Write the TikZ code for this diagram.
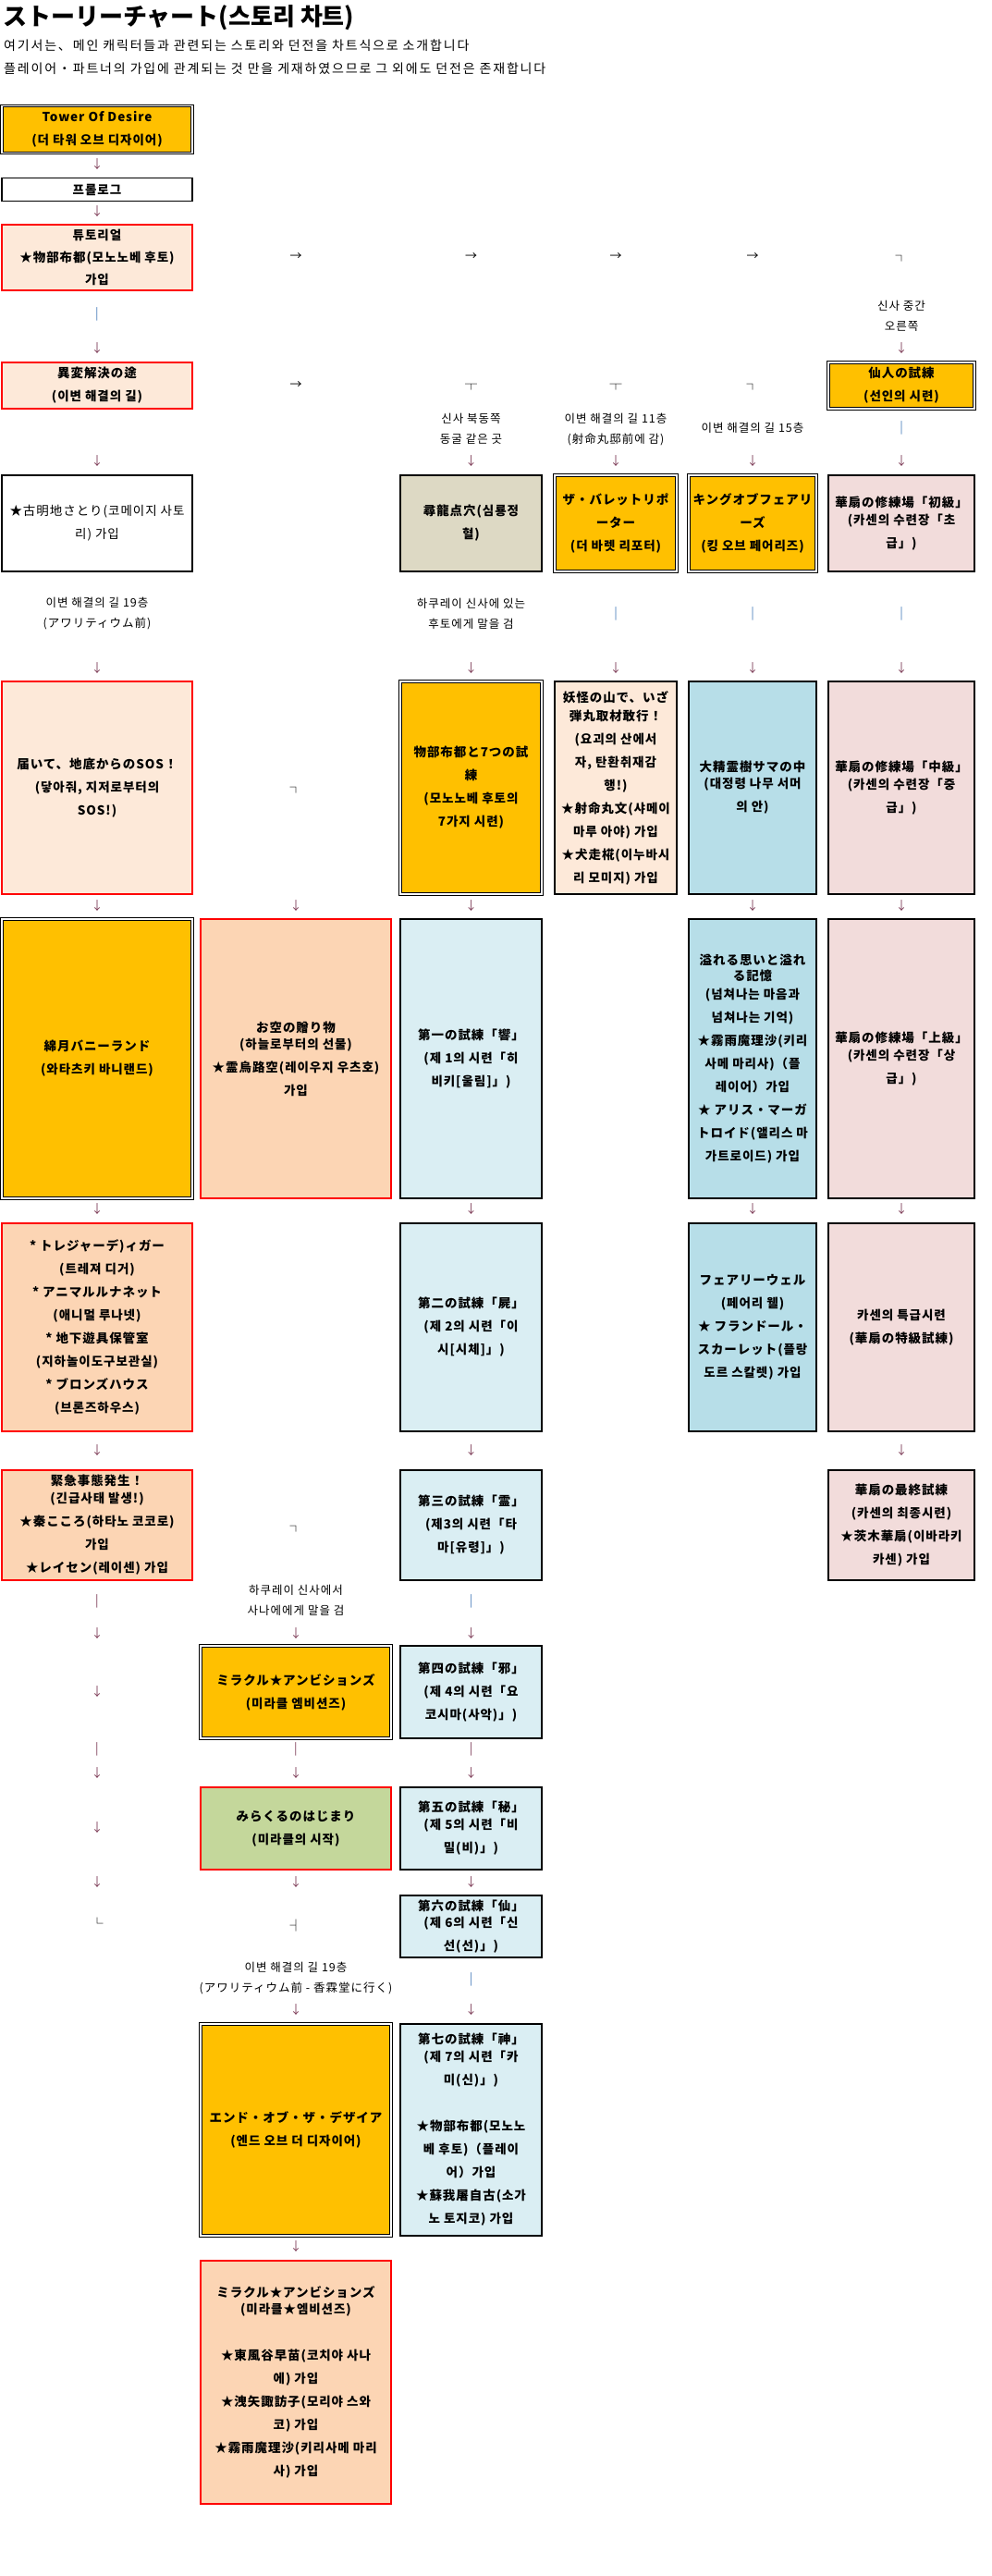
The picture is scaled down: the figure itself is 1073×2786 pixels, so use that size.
\documentclass[tikz,border=0pt]{standalone}
\usepackage{fontspec}
\setmainfont{Noto Sans CJK KR}
\usetikzlibrary{positioning}
\definecolor{goldc}{HTML}{FFC000}
\definecolor{peachL}{HTML}{FDE9D9}
\definecolor{peachD}{HTML}{FCD5B4}
\definecolor{beigec}{HTML}{DDD9C4}
\definecolor{pinkc}{HTML}{F2DCDB}
\definecolor{blueD}{HTML}{B7DEE8}
\definecolor{blueL}{HTML}{DAEEF3}
\definecolor{greenc}{HTML}{C4D79B}
\definecolor{arrc}{HTML}{80405A}
\definecolor{barc}{HTML}{4F81BD}
\tikzset{
  bx/.style={inner sep=0pt, align=center, font=\bfseries\fontsize{13.5}{25}\selectfont\addfontfeatures{LetterSpace=7}},
  goldbx/.style={bx, fill=goldc, draw=black, double=white, double distance=1.3pt, line width=1pt},
  redbx/.style={bx, draw=red, line width=2.4pt},
  blkbx/.style={bx, draw=black, line width=2.2pt},
  thinbx/.style={bx, draw=black, line width=1.1pt},
  wA/.style={minimum width=206pt}, wB/.style={minimum width=206pt},
  wC/.style={minimum width=153pt}, wD/.style={minimum width=132pt},
  wE/.style={minimum width=138pt}, wF/.style={minimum width=158pt},
  dn/.style={text=arrc, inner sep=0pt, font=\fontsize{13}{13}\selectfont},
  bar/.style={text=barc, inner sep=0pt, font=\fontsize{13}{13}\selectfont},
  rt/.style={inner sep=0pt, font=\fontsize{13}{13}\selectfont},
  note/.style={inner sep=0pt, align=center, font=\fontsize{12.5}{22}\selectfont\addfontfeatures{LetterSpace=8}},
  hd/.style={anchor=west, inner sep=0pt, font=\fontsize{14}{14}\selectfont\addfontfeatures{LetterSpace=13}},
}
\newcommand{\colA}{105}
\newcommand{\colB}{320}
\newcommand{\colC}{509.5}
\newcommand{\colD}{666}
\newcommand{\colE}{814}
\newcommand{\colF}{975}

\begin{document}
\begin{tikzpicture}[x=1pt, y=-1pt]
  \fill[white] (0,0) rectangle (1073,2786);
  \useasboundingbox (0,0) rectangle (1073,2786);
  % header
  \node[anchor=west, inner sep=0pt, font=\bfseries\fontsize{26}{26}\selectfont] (ttl) at (3,19) {ストーリーチャート(스토리 차트)};
  \node[hd] (hdA) at (4,49) {여기서는、메인 캐릭터들과 관련되는 스토리와 던전을 차트식으로 소개합니다};
  \node[hd] (hdB) at (4,74) {플레이어・파트너의 가입에 관계되는 것 만을 게재하였으므로 그 외에도 던전은 존재합니다};

  % boxes
  \node[goldbx, wA, minimum height=51pt] (tower) at (\colA,140) {Tower Of Desire\\(더 타워 오브 디자이어)};
  \node[thinbx, wA, minimum height=25pt] (prolog) at (\colA,205) {프롤로그};
  \node[redbx, fill=peachL, wA, minimum height=71pt] (tuto) at (\colA,278.5) {튜토리얼\\[-1pt]★物部布都(모노노베 후토)\\[-1pt]가입};
  \node[redbx, fill=peachL, wA, minimum height=50pt] (ihen) at (\colA,417) {異変解決の途\\(이변 해결의 길)};
  \node[goldbx, wF, minimum height=50pt] (senn) at (\colF,417) {仙人の試練\\(선인의 시련)};

  \node[thinbx, wA, minimum height=104pt, font=\mdseries\fontsize{13.5}{25}\selectfont\addfontfeatures{LetterSpace=7}] (satori) at (\colA,566) {★古明地さとり(코메이지 사토\\리) 가입};
  \node[blkbx, fill=beigec, wC, minimum height=104pt] (shinryu) at (\colC,566) {尋龍点穴(심룡정\\혈)};
  \node[goldbx, wD, minimum height=104pt] (bullet) at (\colD,566) {ザ・バレットリポ\\ーター\\(더 바렛 리포터)};
  \node[goldbx, wE, minimum height=104pt] (kingf) at (\colE,566) {キングオブフェアリ\\ーズ\\(킹 오브 페어리즈)};
  \node[blkbx, fill=pinkc, wF, minimum height=104pt] (kasenA) at (\colF,566) {華扇の修練場「初級」\\[-6pt](카센의 수련장「초\\급」)};

  \node[redbx, fill=peachL, wA, minimum height=230pt] (sos) at (\colA,852) {届いて、地底からのSOS！\\(닿아줘, 지저로부터의\\SOS!)};
  \node[goldbx, wC, minimum height=230pt] (futo7) at (\colC,852) {物部布都と7つの試\\練\\(모노노베 후토의\\7가지 시련)};
  \node[blkbx, fill=peachL, wD, minimum height=230pt] (youkai) at (\colD,852) {妖怪の山で、いざ\\[-5pt]弾丸取材敢行！\\(요괴의 산에서\\자, 탄환취재감\\행!)\\★射命丸文(샤메이\\마루 아야) 가입\\★犬走椛(이누바시\\리 모미지) 가입};
  \node[blkbx, fill=blueD, line width=1.8pt, wE, minimum height=230pt] (daisei) at (\colE,852) {大精霊樹サマの中\\[-7pt](대정령 나무 서머\\의 안)};
  \node[blkbx, fill=pinkc, wF, minimum height=230pt] (kasenB) at (\colF,852) {華扇の修練場「中級」\\[-6pt](카센의 수련장「중\\급」)};

  \node[goldbx, wA, minimum height=302pt] (watat) at (\colA,1145) {綿月バニーランド\\(와타츠키 바니랜드)};
  \node[redbx, fill=peachD, wB, minimum height=302pt] (okuu) at (\colB,1145) {お空の贈り物\\[-7pt](하늘로부터의 선물)\\★霊烏路空(레이우지 우츠호)\\가입};
  \node[blkbx, fill=blueL, wC, minimum height=302pt] (trialA) at (\colC,1145) {第一の試練「響」\\(제 1의 시련「히\\비키[울림]」)};
  \node[blkbx, fill=blueD, line width=1.8pt, wE, minimum height=302pt] (afure) at (\colE,1145) {溢れる思いと溢れ\\[-8pt]る記憶\\[-5pt](넘쳐나는 마음과\\넘쳐나는 기억)\\★霧雨魔理沙(키리\\사메 마리사)（플\\레이어）가입\\★ アリス・マーガ\\トロイド(앨리스 마\\가트로이드) 가입};
  \node[blkbx, fill=pinkc, wF, minimum height=302pt] (kasenC) at (\colF,1145) {華扇の修練場「上級」\\[-6pt](카센의 수련장「상\\급」)};

  \node[redbx, fill=peachD, wA, minimum height=225pt] (treas) at (\colA,1435.5) {* トレジャーデ)ィガー\\(트레져 디거)\\* アニマルルナネット\\(애니멀 루나넷)\\* 地下遊具保管室\\(지하놀이도구보관실)\\* ブロンズハウス\\(브론즈하우스)};
  \node[blkbx, fill=blueL, wC, minimum height=225pt] (trialB) at (\colC,1435.5) {第二の試練「屍」\\(제 2의 시련「이\\시[시체]」)};
  \node[blkbx, fill=blueD, line width=1.8pt, wE, minimum height=225pt] (fwell) at (\colE,1435.5) {フェアリーウェル\\(페어리 웰)\\★ フランドール・\\スカーレット(플랑\\도르 스칼렛) 가입};
  \node[blkbx, fill=pinkc, wF, minimum height=225pt] (kasenS) at (\colF,1435.5) {카센의 특급시련\\(華扇の特級試練)};

  \node[redbx, fill=peachD, wA, minimum height=119pt] (kinkyu) at (\colA,1649.5) {緊急事態発生！\\[-6pt](긴급사태 발생!)\\★秦こころ(하타노 코코로)\\가입\\★レイセン(레이센) 가입};
  \node[blkbx, fill=blueL, wC, minimum height=119pt] (trialC) at (\colC,1649.5) {第三の試練「霊」\\(제3의 시련「타\\마[유령]」)};
  \node[blkbx, fill=pinkc, wF, minimum height=119pt] (kasenF) at (\colF,1649.5) {華扇の最終試練\\(카센의 최종시련)\\★茨木華扇(이바라키\\카센) 가입};

  \node[goldbx, wB, minimum height=100pt] (miracA) at (\colB,1830) {ミラクル★アンビションズ\\(미라클 엠비션즈)};
  \node[blkbx, fill=blueL, wC, minimum height=100pt] (trialD) at (\colC,1830) {第四の試練「邪」\\(제 4의 시련「요\\코시마(사악)」)};
  \node[redbx, fill=greenc, wB, minimum height=89pt] (miracB) at (\colB,1977.5) {みらくるのはじまり\\(미라클의 시작)};
  \node[blkbx, fill=blueL, wC, minimum height=89pt] (trialE) at (\colC,1977.5) {第五の試練「秘」\\[-6pt](제 5의 시련「비\\밀(비)」)};
  \node[blkbx, fill=blueL, wC, minimum height=67pt] (trialF) at (\colC,2083.5) {第六の試練「仙」\\[-7pt](제 6의 시련「신\\선(선)」)};

  \node[goldbx, wB, minimum height=229pt] (endd) at (\colB,2303.5) {エンド・オブ・ザ・デザイア\\(엔드 오브 더 디자이어)};
  \node[blkbx, fill=blueL, wC, minimum height=229pt] (trialG) at (\colC,2303.5) {第七の試練「神」\\[-6pt](제 7의 시련「카\\미(신)」)\\[25pt]★物部布都(모노노\\베 후토)（플레이\\어）가입\\★蘇我屠自古(소가\\노 토지코) 가입};
  \node[redbx, fill=peachD, wB, minimum height=263pt] (miracC) at (\colB,2576.5) {ミラクル★アンビションズ\\[-7pt](미라클★엠비션즈)\\[25pt]★東風谷早苗(코치야 사나\\에) 가입\\★洩矢諏訪子(모리야 스와\\코) 가입\\★霧雨魔理沙(키리사메 마리\\사) 가입};

  % notes
  \node[note] (nF) at (\colF,341.5) {신사 중간\\오른쪽};
  \node[note] (nC) at (\colC,464) {신사 북동쪽\\동굴 같은 곳};
  \node[note] (nD) at (\colD,464.5) {이변 해결의 길 11층\\(射命丸邸前에 감)};
  \node[note] (nE) at (\colE,463) {이변 해결의 길 15층};
  \node[note] (nA) at (\colA,663.5) {이변 해결의 길 19층\\(アワリティウム前)};
  \node[note] (nC2) at (\colC,663.5) {하쿠레이 신사에 있는\\후토에게 말을 검};
  \node[note] (nB) at (\colB,1731) {하쿠레이 신사에서\\사나에에게 말을 검};
  \node[note] (nB2) at (\colB,2139.5) {이변 해결의 길 19층\\(アワリティウム前 - 香霖堂に行く)};

  % flow marks
  \node[dn] (d178a) at (\colA,178) {↓};
  \node[dn] (d229a) at (\colA,229) {↓};
  \foreach \x/\n in {\colB/b,\colC/c,\colD/d,\colE/e} \node[rt] (r278\n) at (\x,278) {→};
  \node[rt] (k278f) at (\colF,280) {┐};
  \node[bar] (b340a) at (\colA,340) {|};
  \foreach \x/\n in {\colA/a,\colF/f} \node[dn] (d377\n) at (\x,377) {↓};
  \node[rt] (r417b) at (\colB,417) {→};
  \node[rt] (t417c) at (\colC,419) {┬};
  \node[rt] (t417d) at (\colD,419) {┬};
  \node[rt] (k417e) at (\colE,419) {┐};
  \node[bar] (b463f) at (\colF,463) {|};
  \foreach \x/\n in {\colA/a,\colC/c,\colD/d,\colE/e,\colF/f} \node[dn] (d499\n) at (\x,499) {↓};
  \foreach \x/\n in {\colD/d,\colE/e,\colF/f} \node[bar] (b664\n) at (\x,664) {|};
  \foreach \x/\n in {\colA/a,\colC/c,\colD/d,\colE/e,\colF/f} \node[dn] (d723\n) at (\x,723) {↓};
  \node[rt] (k853b) at (\colB,855) {┐};
  \foreach \x/\n in {\colA/a,\colB/b,\colC/c,\colE/e,\colF/f} \node[dn] (d980\n) at (\x,980) {↓};
  \foreach \x/\n in {\colA/a,\colC/c,\colE/e,\colF/f} \node[dn] (d1308\n) at (\x,1308) {↓};
  \foreach \x/\n in {\colA/a,\colC/c,\colF/f} \node[dn] (d1569\n) at (\x,1569) {↓};
  \node[rt] (k1652b) at (\colB,1654) {┐};
  \node[dn] (b1732a) at (\colA,1732) {|};
  \node[bar] (b1732c) at (\colC,1732) {|};
  \foreach \x/\n in {\colA/a,\colB/b,\colC/c} \node[dn] (d1767\n) at (\x,1767) {↓};
  \node[dn] (d1830a) at (\colA,1830) {↓};
  \foreach \x/\n in {\colA/a,\colB/b,\colC/c} \node[dn] (b1892\n) at (\x,1892) {|};
  \foreach \x/\n in {\colA/a,\colB/b,\colC/c} \node[dn] (d1918\n) at (\x,1918) {↓};
  \node[dn] (d1977a) at (\colA,1977) {↓};
  \foreach \x/\n in {\colA/a,\colB/b,\colC/c} \node[dn] (d2036\n) at (\x,2036) {↓};
  \node[rt] (l2080a) at (\colA,2080) {└};
  \node[rt] (v2083b) at (\colB,2083) {┤};
  \node[bar] (b2141c) at (\colC,2141) {|};
  \foreach \x/\n in {\colB/b,\colC/c} \node[dn] (d2174\n) at (\x,2174) {↓};
  \node[dn] (d2430b) at (\colB,2430) {↓};
\end{tikzpicture}
\end{document}
